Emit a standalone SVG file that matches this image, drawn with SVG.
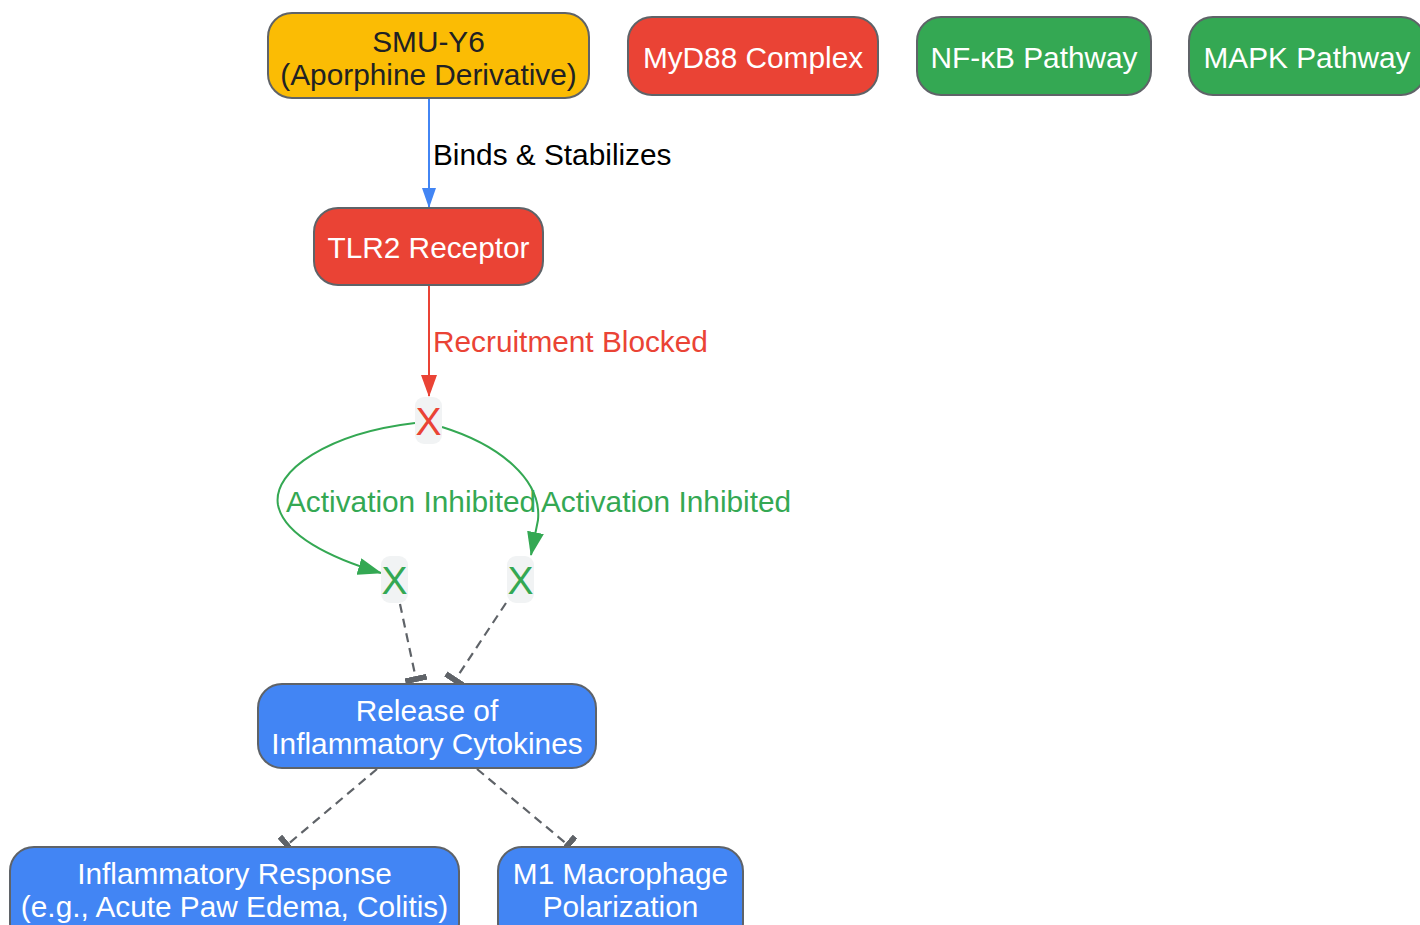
<svg xmlns="http://www.w3.org/2000/svg" width="1420" height="925" viewBox="0 0 1420 925">
<defs>
<style>
.t{font-family:"Liberation Sans",Arial,sans-serif;font-size:29.8px;text-anchor:middle}
.w{fill:#ffffff}
.node{stroke:#5f6368;stroke-width:2}
.lbl{font-family:"Liberation Sans",Arial,sans-serif;font-size:29.8px}
.dash{fill:none;stroke:#5f6368;stroke-width:2.2;stroke-dasharray:9,6}
</style>
<marker id="arB" viewBox="0 0 20 14" refX="19" refY="7" markerWidth="20" markerHeight="14" markerUnits="userSpaceOnUse" orient="auto"><path d="M0,0 L20,7 L0,14 Z" fill="#4285F4"/></marker>
<marker id="arR" viewBox="0 0 22 16" refX="21" refY="8" markerWidth="22" markerHeight="16" markerUnits="userSpaceOnUse" orient="auto"><path d="M0,0 L22,8 L0,16 Z" fill="#EA4335"/></marker>
<marker id="arG" viewBox="0 0 24 17" refX="23" refY="8.5" markerWidth="24" markerHeight="17" markerUnits="userSpaceOnUse" orient="auto"><path d="M0,0 L24,8.5 L0,17 Z" fill="#34A853"/></marker>
<marker id="tee" viewBox="0 0 6 22" refX="3" refY="11" markerWidth="6" markerHeight="22" markerUnits="userSpaceOnUse" orient="auto"><rect x="0" y="0" width="6" height="22" fill="#5f6368"/></marker>
</defs>
<rect width="1420" height="925" fill="#ffffff"/>
<g id="connectors">
<line x1="429" y1="98" x2="429" y2="207" stroke="#4285F4" stroke-width="2" marker-end="url(#arB)"/>
<text class="lbl" x="433" y="165" fill="#000000">Binds &amp; Stabilizes</text>
<line x1="429" y1="285" x2="429" y2="396" stroke="#EA4335" stroke-width="2" marker-end="url(#arR)"/>
<text class="lbl" x="433" y="352" fill="#EA4335">Recruitment Blocked</text>
<path d="M415,423 C330,433 272,470 278,505 C284,535 330,558 381,573" fill="none" stroke="#34A853" stroke-width="2" marker-end="url(#arG)"/>
<path d="M442,427 C500,445 542,480 538,520 L531,555" fill="none" stroke="#34A853" stroke-width="2" marker-end="url(#arG)"/>
<text class="lbl" x="286" y="512" fill="#34A853">Activation Inhibited</text>
<text class="lbl" x="541" y="512" fill="#34A853">Activation Inhibited</text>
<line class="dash" x1="400" y1="604" x2="416" y2="679" marker-end="url(#tee)"/>
<line class="dash" x1="506" y1="603" x2="455" y2="680" marker-end="url(#tee)"/>
<line class="dash" x1="377" y1="769" x2="287" y2="845" marker-end="url(#tee)"/>
<line class="dash" x1="477" y1="769" x2="568" y2="845" marker-end="url(#tee)"/>
</g>
<g id="smu">
<rect class="node" x="268" y="13" width="321" height="85" rx="24" fill="#FBBC04"/>
<text class="t" x="428.5" y="52" fill="#202124">SMU-Y6</text>
<text class="t" x="428.5" y="85" fill="#202124">(Aporphine Derivative)</text>
</g>
<g id="myd88">
<rect class="node" x="628" y="17" width="250" height="78" rx="24" fill="#EA4335"/>
<text class="t w" x="753" y="68">MyD88 Complex</text>
</g>
<g id="nfkb">
<rect class="node" x="917" y="17" width="234" height="78" rx="24" fill="#34A853"/>
<text class="t w" x="1034" y="68">NF-κB Pathway</text>
</g>
<g id="mapk">
<rect class="node" x="1189" y="17" width="236" height="78" rx="24" fill="#34A853"/>
<text class="t w" x="1307" y="68">MAPK Pathway</text>
</g>
<g id="tlr2">
<rect class="node" x="314" y="208" width="229" height="77" rx="24" fill="#EA4335"/>
<text class="t w" x="428.5" y="258">TLR2 Receptor</text>
</g>
<g id="xblock">
<rect x="415" y="397" width="27" height="47" rx="9" fill="#f1f3f4"/>
<text class="t" x="428.5" y="435" style="font-size:39px" fill="#EA4335">X</text>
</g>
<g id="xnfkb">
<rect x="381" y="556" width="27" height="47" rx="9" fill="#f1f3f4"/>
<text class="t" x="394.5" y="594" style="font-size:39px" fill="#34A853">X</text>
</g>
<g id="xmapk">
<rect x="507" y="556" width="27" height="47" rx="9" fill="#f1f3f4"/>
<text class="t" x="520.5" y="594" style="font-size:39px" fill="#34A853">X</text>
</g>
<g id="release">
<rect class="node" x="258" y="684" width="338" height="84" rx="24" fill="#4285F4"/>
<text class="t w" x="427" y="721">Release of</text>
<text class="t w" x="427" y="754">Inflammatory Cytokines</text>
</g>
<g id="inflam">
<rect class="node" x="10" y="847" width="449" height="100" rx="24" fill="#4285F4"/>
<text class="t w" x="234.5" y="884">Inflammatory Response</text>
<text class="t w" x="234.5" y="917">(e.g., Acute Paw Edema, Colitis)</text>
</g>
<g id="m1">
<rect class="node" x="498" y="847" width="245" height="100" rx="24" fill="#4285F4"/>
<text class="t w" x="620.5" y="884">M1 Macrophage</text>
<text class="t w" x="620.5" y="917">Polarization</text>
</g>
</svg>
